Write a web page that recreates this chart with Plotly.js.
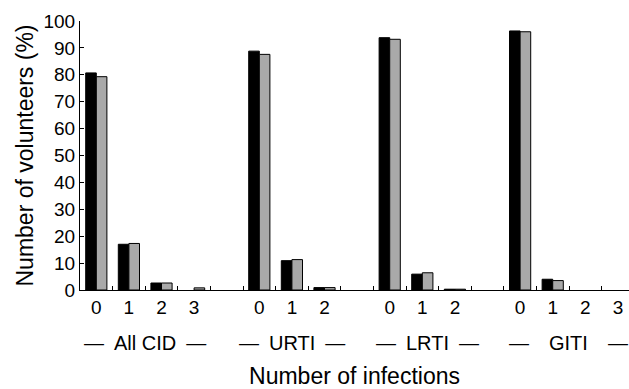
<!DOCTYPE html>
<html><head><meta charset="utf-8">
<script src="https://cdn.plot.ly/plotly-3.0.1.min.js"></script>
<style>html,body{margin:0;padding:0;background:#fff}#chart{width:629px;height:389px}</style>
</head><body><div id="chart"></div>
<script>
// slot categories (gap slots separate the infection groups)
const slots = ["All CID 0","All CID 1","All CID 2","All CID 3","gap1","URTI 0","URTI 1","URTI 2","gap2","LRTI 0","LRTI 1","LRTI 2","gap3","GITI 0","GITI 1","GITI 2","GITI 3"];
const slotLabels = ["0","1","2","3","","0","1","2","","0","1","2","","0","1","2","3"];
const categories = ["All CID 0","All CID 1","All CID 2","All CID 3","URTI 0","URTI 1","URTI 2","LRTI 0","LRTI 1","LRTI 2","GITI 0","GITI 1","GITI 2","GITI 3"];
const seriesBlack = [80.7,17.0,2.6,0.0,88.8,10.9,0.9,93.8,5.9,0.3,96.3,4.0,0,0];
const seriesGrey  = [79.3,17.3,2.6,0.8,87.6,11.3,0.9,93.2,6.4,0.3,96.0,3.5,0,0];
const groupLabels = ["\u2014\u2002All CID\u2002\u2014","\u2014\u2002URTI\u2002\u2014","\u2014\u2002LRTI\u2002\u2014","\u2014\u2003GITI\u2003\u2014"];
const groupCenters = [1.5, 6, 10.17, 14.48];
const yTicks = [0,10,20,30,40,50,60,70,80,90,100];

const FONT = "Liberation Sans, Arial, sans-serif";
const lw = v => v > 0 ? 1 : 0;
const traces = [
  {type:"bar", x:categories, y:seriesBlack, marker:{color:"#000000", line:{color:"#000", width:seriesBlack.map(lw)}}, showlegend:false},
  {type:"bar", x:categories, y:seriesGrey, marker:{color:"#a9a9a9", line:{color:"#000", width:seriesGrey.map(lw)}}, showlegend:false},
  {type:"scatter", x:[], y:[], xaxis:"x2", showlegend:false}
];
const halfTicks = [];
for (let i = 0; i < slots.length - 1; i++) halfTicks.push(i + 0.5);

const annotations = groupLabels.map((t,i)=>({
  text:t, x:groupCenters[i], xref:"x", y:-0.197, yref:"paper", showarrow:false,
  xanchor:"center", yanchor:"middle", font:{family:FONT, size:20, color:"#000"}
}));

const layout = {
  width:629, height:389,
  margin:{l:80, r:0, t:21, b:99},
  paper_bgcolor:"#fff", plot_bgcolor:"#fff",
  barmode:"group", bargap:0.35, bargroupgap:0,
  font:{family:FONT, color:"#000"},
  xaxis:{type:"category", categoryorder:"array", categoryarray:slots,
    tickmode:"array", tickvals:slots, ticktext:slotLabels,
    range:[-0.5,16.34], showline:true, linecolor:"#000", linewidth:1,
    ticks:"", showgrid:false, zeroline:false, tickfont:{size:19, family:FONT},
    title:{text:"Number of infections", font:{size:23, family:FONT}, standoff:53}},
  xaxis2:{overlaying:"x", range:[-0.5,16.34], tickmode:"array", tickvals:halfTicks,
    ticks:"inside", ticklen:4, tickcolor:"#000", showticklabels:false, showgrid:false,
    zeroline:false, side:"bottom", anchor:"y"},
  yaxis:{range:[0,100], tickmode:"array", tickvals:yTicks, ticks:"inside", ticklen:4,
    tickcolor:"#000", showline:true, linecolor:"#000", linewidth:1, showgrid:false, zeroline:false,
    tickfont:{size:19, family:FONT},
    title:{text:"Number of volunteers (%)", font:{size:23, family:FONT}, standoff:3}},
  annotations:annotations
};
Plotly.newPlot("chart", traces, layout, {displayModeBar:false, staticPlot:true});
</script></body></html>
